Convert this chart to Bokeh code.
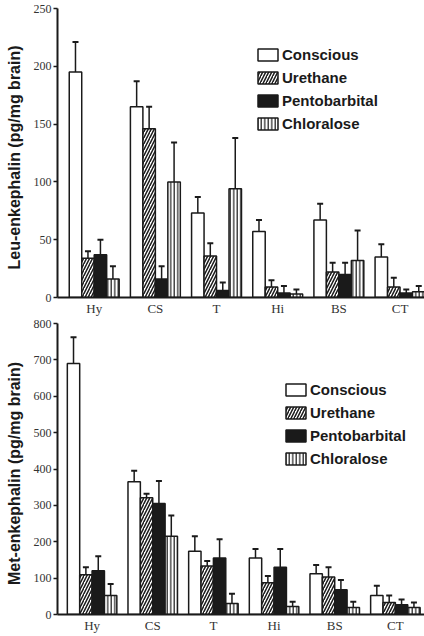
from bokeh.plotting import figure
from bokeh.models import ColumnDataSource, Whisker, TeeHead, FixedTicker, Range1d
from bokeh.layouts import column
from bokeh.embed import file_html
from bokeh.resources import INLINE

regions = ["Hy", "CS", "T", "Hi", "BS", "CT"]
groups = ["Conscious", "Urethane", "Pentobarbital", "Chloralose"]

leu_conscious = [195, 165, 73, 57, 67, 35]
leu_conscious_err = [26, 22, 14, 10, 14, 11]
leu_urethane = [34, 146, 36, 9, 22, 9]
leu_urethane_err = [6, 19, 11, 6, 8, 8]
leu_pento = [37, 16, 6, 4, 20, 4]
leu_pento_err = [13, 11, 7, 6, 10, 3]
leu_chlor = [16, 100, 94, 3, 32, 5]
leu_chlor_err = [11, 34, 44, 4, 26, 5]
leu_ticks = [0, 50, 100, 150, 200, 250]

met_conscious = [690, 365, 174, 155, 112, 52]
met_conscious_err = [72, 30, 41, 25, 24, 27]
met_urethane = [109, 321, 133, 87, 103, 33]
met_urethane_err = [21, 11, 14, 19, 27, 19]
met_pento = [120, 305, 155, 130, 68, 27]
met_pento_err = [40, 62, 52, 50, 27, 14]
met_chlor = [52, 215, 30, 22, 19, 19]
met_chlor_err = [32, 57, 27, 13, 16, 14]
met_ticks = [0, 100, 200, 300, 400, 500, 600, 700, 800]

INK = "#1a1a1a"
BW = 0.204
styles = [
    dict(fill_color="white"),
    dict(fill_color="white", hatch_pattern="/", hatch_color=INK, hatch_scale=6, hatch_weight=1.5),
    dict(fill_color=INK),
    dict(fill_color="white", hatch_pattern="|", hatch_color=INK, hatch_scale=3.5, hatch_weight=1.2),
]


def make_plot(series, errs, ymax, yticks, ylabel, xr, left, top, bottom, height, legend_loc):
    p = figure(width=424, height=height, output_backend="svg", toolbar_location=None,
               x_range=Range1d(*xr), y_range=Range1d(0, ymax),
               min_border_left=left, min_border_right=0, min_border_top=top,
               min_border_bottom=bottom)
    p.outline_line_color = None
    p.xgrid.visible = False
    p.ygrid.visible = False
    idx = list(range(len(regions)))
    for k, (vals, err) in enumerate(zip(series, errs)):
        xs = [i + (k - 1.5) * BW for i in idx]
        src = ColumnDataSource(dict(x=xs, top=vals, upper=[v + e for v, e in zip(vals, err)]))
        p.vbar(x="x", top="top", width=BW, source=src, line_color=INK, line_width=1.5,
               legend_label=groups[k], **styles[k])
        w = Whisker(source=src, base="x", lower="top", upper="upper", line_color=INK,
                    line_width=1.5, lower_head=None,
                    upper_head=TeeHead(size=6, line_color=INK, line_width=2))
        p.add_layout(w)
    p.xaxis.ticker = FixedTicker(ticks=idx)
    p.xaxis.major_label_overrides = {i: r for i, r in enumerate(regions)}
    p.yaxis.ticker = FixedTicker(ticks=yticks)
    for ax in (p.xaxis, p.yaxis):
        ax.axis_line_color = INK
        ax.axis_line_width = 2
        ax.major_label_text_font = "Liberation Serif"
        ax.major_label_text_font_size = "13px"
        ax.major_label_text_color = "#333333"
        ax.minor_tick_line_color = None
    p.xaxis.major_tick_line_color = None
    p.xaxis.major_tick_out = 0
    p.xaxis.major_tick_in = 0
    p.xaxis.major_label_standoff = 3
    p.yaxis.major_tick_line_color = INK
    p.yaxis.major_tick_line_width = 1.5
    p.yaxis.major_tick_out = 4
    p.yaxis.major_tick_in = 0
    p.yaxis.major_label_standoff = 2
    p.yaxis.major_label_text_font_size = "12px"
    p.yaxis.axis_label = ylabel
    p.yaxis.axis_label_text_font = "Liberation Sans"
    p.yaxis.axis_label_text_font_style = "bold"
    p.yaxis.axis_label_text_font_size = "16px"
    p.yaxis.axis_label_text_color = INK
    p.yaxis.axis_label_standoff = 8
    lg = p.legend[0]
    lg.location = legend_loc
    lg.padding = 0
    lg.margin = 0
    lg.spacing = 6
    lg.glyph_width = 25
    lg.glyph_height = 15
    lg.label_height = 15
    lg.label_standoff = 2
    lg.border_line_color = None
    lg.background_fill_alpha = 0
    lg.label_text_font = "Liberation Sans"
    lg.label_text_font_style = "bold"
    lg.label_text_font_size = "15px"
    lg.label_text_color = INK
    return p


p1 = make_plot([leu_conscious, leu_urethane, leu_pento, leu_chlor],
               [leu_conscious_err, leu_urethane_err, leu_pento_err, leu_chlor_err],
               250, leu_ticks, "Leu-enkephalin  (pg/mg  brain)", (-0.6, 5.4),
               57, 8, 20, 318, (198, 165))
p2 = make_plot([met_conscious, met_urethane, met_pento, met_chlor],
               [met_conscious_err, met_urethane_err, met_pento_err, met_chlor_err],
               800, met_ticks, "Met-enkephalin  (pg/mg  brain)", (-0.57, 5.48),
               55, 5, 18, 317, (226, 147))

layout = column(p1, p2, spacing=0)
open("out.html", "w").write(file_html(layout, INLINE))
